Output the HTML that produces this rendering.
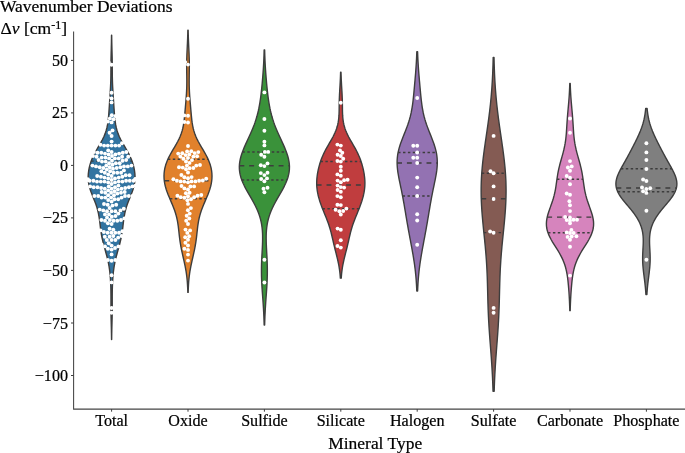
<!DOCTYPE html>
<html><head><meta charset="utf-8"><title>Wavenumber Deviations</title>
<style>
html,body{margin:0;padding:0;background:#fff;}
body{width:685px;height:453px;overflow:hidden;position:relative;}
svg{position:absolute;left:0;top:0;display:block;}
text{font-family:"Liberation Serif",serif;fill:#000;stroke:#000;stroke-width:0.22px;}
.t{font-size:16.1px;}
.l{font-size:17.45px;}
</style></head><body>
<svg width="685" height="453" viewBox="0 0 685 453">
<rect width="685" height="453" fill="#fff"/>
<text x="0" y="12.3" class="l">Wavenumber Deviations</text>
<text x="0.5" y="33.6" class="l" style="font-size:17.5px">Δ<tspan font-style="italic">ν</tspan> [cm<tspan dy="-4.1" font-size="12">-1</tspan><tspan dy="4.1">]</tspan></text>
<g>
<path d="M111.53,35.29 L111.49,38.36 L111.44,41.43 L111.38,44.51 L111.30,47.58 L111.22,50.65 L111.14,53.72 L111.06,56.80 L111.00,59.87 L110.96,62.94 L110.94,66.02 L110.93,69.09 L110.91,72.16 L110.89,75.24 L110.84,78.31 L110.76,81.38 L110.64,84.45 L110.49,87.53 L110.32,90.60 L110.13,93.67 L109.93,96.75 L109.73,99.82 L109.54,102.89 L109.34,105.97 L109.13,109.04 L108.92,112.11 L108.68,115.18 L108.40,118.26 L108.05,121.33 L107.59,124.40 L106.98,127.48 L106.17,130.55 L105.14,133.62 L103.86,136.70 L102.35,139.77 L100.67,142.84 L98.88,145.91 L97.07,148.99 L95.32,152.06 L93.71,155.13 L92.30,158.21 L91.09,161.28 L90.10,164.35 L89.31,167.43 L88.72,170.50 L88.33,173.57 L88.17,176.64 L88.24,179.72 L88.57,182.79 L89.17,185.86 L90.01,188.94 L91.06,192.01 L92.25,195.08 L93.50,198.16 L94.73,201.23 L95.88,204.30 L96.89,207.37 L97.75,210.45 L98.46,213.52 L99.02,216.59 L99.48,219.67 L99.86,222.74 L100.22,225.81 L100.59,228.89 L101.01,231.96 L101.51,235.03 L102.10,238.10 L102.79,241.18 L103.57,244.25 L104.40,247.32 L105.26,250.40 L106.12,253.47 L106.94,256.54 L107.69,259.62 L108.37,262.69 L108.94,265.76 L109.42,268.83 L109.82,271.91 L110.13,274.98 L110.37,278.05 L110.57,281.13 L110.71,284.20 L110.82,287.27 L110.90,290.35 L110.94,293.42 L110.96,296.49 L110.97,299.56 L110.96,302.64 L110.96,305.71 L110.96,308.78 L110.99,311.86 L111.03,314.93 L111.09,318.00 L111.17,321.08 L111.25,324.15 L111.33,327.22 L111.40,330.29 L111.46,333.37 L111.51,336.44 L111.54,339.51 L111.66,339.51 L111.69,336.44 L111.74,333.37 L111.80,330.29 L111.87,327.22 L111.95,324.15 L112.03,321.08 L112.11,318.00 L112.17,314.93 L112.21,311.86 L112.24,308.78 L112.24,305.71 L112.24,302.64 L112.23,299.56 L112.24,296.49 L112.26,293.42 L112.30,290.35 L112.38,287.27 L112.49,284.20 L112.63,281.13 L112.83,278.05 L113.07,274.98 L113.38,271.91 L113.78,268.83 L114.26,265.76 L114.83,262.69 L115.51,259.62 L116.26,256.54 L117.08,253.47 L117.94,250.40 L118.80,247.32 L119.63,244.25 L120.41,241.18 L121.10,238.10 L121.69,235.03 L122.19,231.96 L122.61,228.89 L122.98,225.81 L123.34,222.74 L123.72,219.67 L124.18,216.59 L124.74,213.52 L125.45,210.45 L126.31,207.37 L127.32,204.30 L128.47,201.23 L129.70,198.16 L130.95,195.08 L132.14,192.01 L133.19,188.94 L134.03,185.86 L134.63,182.79 L134.96,179.72 L135.03,176.64 L134.87,173.57 L134.48,170.50 L133.89,167.43 L133.10,164.35 L132.11,161.28 L130.90,158.21 L129.49,155.13 L127.88,152.06 L126.13,148.99 L124.32,145.91 L122.53,142.84 L120.85,139.77 L119.34,136.70 L118.06,133.62 L117.03,130.55 L116.22,127.48 L115.61,124.40 L115.15,121.33 L114.80,118.26 L114.52,115.18 L114.28,112.11 L114.07,109.04 L113.86,105.97 L113.66,102.89 L113.47,99.82 L113.27,96.75 L113.07,93.67 L112.88,90.60 L112.71,87.53 L112.56,84.45 L112.44,81.38 L112.36,78.31 L112.31,75.24 L112.29,72.16 L112.27,69.09 L112.26,66.02 L112.24,62.94 L112.20,59.87 L112.14,56.80 L112.06,53.72 L111.98,50.65 L111.90,47.58 L111.82,44.51 L111.76,41.43 L111.71,38.36 L111.67,35.29Z" fill="#3274a1" stroke="#3d3d3d" stroke-width="1.4" stroke-linejoin="round"/>
<path d="M187.85,30.30 L187.80,32.95 L187.72,35.59 L187.64,38.24 L187.53,40.89 L187.42,43.54 L187.29,46.18 L187.17,48.83 L187.04,51.48 L186.92,54.13 L186.83,56.77 L186.75,59.42 L186.70,62.07 L186.68,64.72 L186.68,67.36 L186.70,70.01 L186.73,72.66 L186.77,75.31 L186.80,77.95 L186.82,80.60 L186.81,83.25 L186.77,85.90 L186.69,88.54 L186.58,91.19 L186.44,93.84 L186.26,96.49 L186.06,99.13 L185.85,101.78 L185.62,104.43 L185.39,107.08 L185.16,109.72 L184.93,112.37 L184.69,115.02 L184.44,117.67 L184.15,120.31 L183.80,122.96 L183.36,125.61 L182.81,128.26 L182.12,130.90 L181.27,133.55 L180.25,136.20 L179.06,138.85 L177.72,141.49 L176.27,144.14 L174.73,146.79 L173.16,149.44 L171.61,152.08 L170.13,154.73 L168.76,157.38 L167.54,160.03 L166.48,162.67 L165.60,165.32 L164.91,167.97 L164.42,170.62 L164.12,173.26 L164.00,175.91 L164.08,178.56 L164.34,181.21 L164.77,183.85 L165.38,186.50 L166.14,189.15 L167.04,191.80 L168.04,194.44 L169.13,197.09 L170.26,199.74 L171.40,202.39 L172.52,205.03 L173.59,207.68 L174.57,210.33 L175.45,212.98 L176.21,215.62 L176.87,218.27 L177.42,220.92 L177.87,223.57 L178.25,226.21 L178.57,228.86 L178.86,231.51 L179.15,234.16 L179.45,236.80 L179.78,239.45 L180.16,242.10 L180.58,244.75 L181.06,247.39 L181.58,250.04 L182.15,252.69 L182.74,255.34 L183.34,257.98 L183.94,260.63 L184.52,263.28 L185.07,265.93 L185.58,268.57 L186.04,271.22 L186.44,273.87 L186.78,276.52 L187.07,279.16 L187.31,281.81 L187.49,284.46 L187.64,287.11 L187.75,289.75 L187.83,292.40 L188.17,292.40 L188.25,289.75 L188.36,287.11 L188.51,284.46 L188.69,281.81 L188.93,279.16 L189.22,276.52 L189.56,273.87 L189.96,271.22 L190.42,268.57 L190.93,265.93 L191.48,263.28 L192.06,260.63 L192.66,257.98 L193.26,255.34 L193.85,252.69 L194.42,250.04 L194.94,247.39 L195.42,244.75 L195.84,242.10 L196.22,239.45 L196.55,236.80 L196.85,234.16 L197.14,231.51 L197.43,228.86 L197.75,226.21 L198.13,223.57 L198.58,220.92 L199.13,218.27 L199.79,215.62 L200.55,212.98 L201.43,210.33 L202.41,207.68 L203.48,205.03 L204.60,202.39 L205.74,199.74 L206.87,197.09 L207.96,194.44 L208.96,191.80 L209.86,189.15 L210.62,186.50 L211.23,183.85 L211.66,181.21 L211.92,178.56 L212.00,175.91 L211.88,173.26 L211.58,170.62 L211.09,167.97 L210.40,165.32 L209.52,162.67 L208.46,160.03 L207.24,157.38 L205.87,154.73 L204.39,152.08 L202.84,149.44 L201.27,146.79 L199.73,144.14 L198.28,141.49 L196.94,138.85 L195.75,136.20 L194.73,133.55 L193.88,130.90 L193.19,128.26 L192.64,125.61 L192.20,122.96 L191.85,120.31 L191.56,117.67 L191.31,115.02 L191.07,112.37 L190.84,109.72 L190.61,107.08 L190.38,104.43 L190.15,101.78 L189.94,99.13 L189.74,96.49 L189.56,93.84 L189.42,91.19 L189.31,88.54 L189.23,85.90 L189.19,83.25 L189.18,80.60 L189.20,77.95 L189.23,75.31 L189.27,72.66 L189.30,70.01 L189.32,67.36 L189.32,64.72 L189.30,62.07 L189.25,59.42 L189.17,56.77 L189.08,54.13 L188.96,51.48 L188.83,48.83 L188.71,46.18 L188.58,43.54 L188.47,40.89 L188.36,38.24 L188.28,35.59 L188.20,32.95 L188.15,30.30Z" fill="#e1812c" stroke="#3d3d3d" stroke-width="1.4" stroke-linejoin="round"/>
<path d="M264.16,49.86 L264.09,52.64 L264.00,55.42 L263.90,58.19 L263.78,60.97 L263.64,63.75 L263.48,66.53 L263.31,69.31 L263.12,72.09 L262.91,74.87 L262.69,77.65 L262.45,80.43 L262.21,83.21 L261.94,85.99 L261.66,88.77 L261.36,91.55 L261.04,94.33 L260.70,97.11 L260.31,99.89 L259.89,102.67 L259.41,105.45 L258.88,108.23 L258.28,111.01 L257.61,113.79 L256.86,116.57 L256.02,119.35 L255.11,122.13 L254.11,124.91 L253.03,127.69 L251.88,130.47 L250.67,133.25 L249.41,136.03 L248.13,138.81 L246.85,141.59 L245.58,144.36 L244.35,147.14 L243.20,149.92 L242.16,152.70 L241.23,155.48 L240.47,158.26 L239.88,161.04 L239.50,163.82 L239.33,166.60 L239.40,169.38 L239.70,172.16 L240.23,174.94 L240.98,177.72 L241.95,180.50 L243.11,183.28 L244.42,186.06 L245.86,188.84 L247.40,191.62 L248.99,194.40 L250.60,197.18 L252.18,199.96 L253.72,202.74 L255.17,205.52 L256.51,208.30 L257.73,211.08 L258.81,213.86 L259.75,216.64 L260.54,219.42 L261.19,222.20 L261.70,224.98 L262.08,227.76 L262.36,230.54 L262.53,233.31 L262.61,236.09 L262.62,238.87 L262.57,241.65 L262.48,244.43 L262.36,247.21 L262.22,249.99 L262.07,252.77 L261.92,255.55 L261.78,258.33 L261.66,261.11 L261.56,263.89 L261.49,266.67 L261.46,269.45 L261.46,272.23 L261.49,275.01 L261.56,277.79 L261.66,280.57 L261.79,283.35 L261.94,286.13 L262.12,288.91 L262.30,291.69 L262.50,294.47 L262.71,297.25 L262.91,300.03 L263.11,302.81 L263.29,305.59 L263.47,308.37 L263.62,311.15 L263.76,313.93 L263.89,316.71 L263.99,319.48 L264.08,322.26 L264.16,325.04 L264.64,325.04 L264.72,322.26 L264.81,319.48 L264.91,316.71 L265.04,313.93 L265.18,311.15 L265.33,308.37 L265.51,305.59 L265.69,302.81 L265.89,300.03 L266.09,297.25 L266.30,294.47 L266.50,291.69 L266.68,288.91 L266.86,286.13 L267.01,283.35 L267.14,280.57 L267.24,277.79 L267.31,275.01 L267.34,272.23 L267.34,269.45 L267.31,266.67 L267.24,263.89 L267.14,261.11 L267.02,258.33 L266.88,255.55 L266.73,252.77 L266.58,249.99 L266.44,247.21 L266.32,244.43 L266.23,241.65 L266.18,238.87 L266.19,236.09 L266.27,233.31 L266.44,230.54 L266.72,227.76 L267.10,224.98 L267.61,222.20 L268.26,219.42 L269.05,216.64 L269.99,213.86 L271.07,211.08 L272.29,208.30 L273.63,205.52 L275.08,202.74 L276.62,199.96 L278.20,197.18 L279.81,194.40 L281.40,191.62 L282.94,188.84 L284.38,186.06 L285.69,183.28 L286.85,180.50 L287.82,177.72 L288.57,174.94 L289.10,172.16 L289.40,169.38 L289.47,166.60 L289.30,163.82 L288.92,161.04 L288.33,158.26 L287.57,155.48 L286.64,152.70 L285.60,149.92 L284.45,147.14 L283.22,144.36 L281.95,141.59 L280.67,138.81 L279.39,136.03 L278.13,133.25 L276.92,130.47 L275.77,127.69 L274.69,124.91 L273.69,122.13 L272.78,119.35 L271.94,116.57 L271.19,113.79 L270.52,111.01 L269.92,108.23 L269.39,105.45 L268.91,102.67 L268.49,99.89 L268.10,97.11 L267.76,94.33 L267.44,91.55 L267.14,88.77 L266.86,85.99 L266.59,83.21 L266.35,80.43 L266.11,77.65 L265.89,74.87 L265.68,72.09 L265.49,69.31 L265.32,66.53 L265.16,63.75 L265.02,60.97 L264.90,58.19 L264.80,55.42 L264.71,52.64 L264.64,49.86Z" fill="#3a923a" stroke="#3d3d3d" stroke-width="1.4" stroke-linejoin="round"/>
<path d="M340.60,72.23 L340.54,74.31 L340.47,76.39 L340.39,78.48 L340.29,80.56 L340.18,82.64 L340.07,84.72 L339.95,86.80 L339.83,88.88 L339.70,90.96 L339.59,93.04 L339.49,95.12 L339.40,97.20 L339.32,99.28 L339.27,101.36 L339.23,103.44 L339.20,105.52 L339.17,107.60 L339.15,109.68 L339.11,111.76 L339.04,113.84 L338.93,115.92 L338.77,118.00 L338.53,120.08 L338.21,122.16 L337.80,124.24 L337.27,126.32 L336.64,128.40 L335.89,130.48 L335.03,132.56 L334.07,134.64 L333.02,136.72 L331.90,138.80 L330.72,140.88 L329.52,142.96 L328.31,145.04 L327.12,147.12 L325.97,149.20 L324.87,151.28 L323.84,153.36 L322.88,155.44 L321.99,157.52 L321.19,159.60 L320.46,161.68 L319.80,163.76 L319.21,165.84 L318.68,167.92 L318.20,170.00 L317.78,172.08 L317.42,174.16 L317.13,176.24 L316.91,178.32 L316.76,180.40 L316.69,182.48 L316.71,184.56 L316.81,186.64 L317.01,188.72 L317.29,190.80 L317.65,192.88 L318.08,194.96 L318.59,197.04 L319.17,199.12 L319.80,201.20 L320.50,203.28 L321.23,205.36 L322.01,207.44 L322.83,209.52 L323.67,211.60 L324.52,213.68 L325.37,215.76 L326.21,217.84 L327.03,219.92 L327.81,222.00 L328.56,224.08 L329.25,226.16 L329.90,228.24 L330.49,230.32 L331.05,232.40 L331.57,234.48 L332.06,236.56 L332.54,238.64 L333.01,240.72 L333.49,242.80 L333.97,244.88 L334.47,246.96 L334.98,249.04 L335.51,251.12 L336.03,253.20 L336.56,255.28 L337.07,257.36 L337.57,259.44 L338.04,261.52 L338.48,263.60 L338.88,265.68 L339.23,267.76 L339.54,269.84 L339.80,271.92 L340.02,274.01 L340.21,276.09 L340.35,278.17 L341.25,278.17 L341.39,276.09 L341.58,274.01 L341.80,271.92 L342.06,269.84 L342.37,267.76 L342.72,265.68 L343.12,263.60 L343.56,261.52 L344.03,259.44 L344.53,257.36 L345.04,255.28 L345.57,253.20 L346.09,251.12 L346.62,249.04 L347.13,246.96 L347.63,244.88 L348.11,242.80 L348.59,240.72 L349.06,238.64 L349.54,236.56 L350.03,234.48 L350.55,232.40 L351.11,230.32 L351.70,228.24 L352.35,226.16 L353.04,224.08 L353.79,222.00 L354.57,219.92 L355.39,217.84 L356.23,215.76 L357.08,213.68 L357.93,211.60 L358.77,209.52 L359.59,207.44 L360.37,205.36 L361.10,203.28 L361.80,201.20 L362.43,199.12 L363.01,197.04 L363.52,194.96 L363.95,192.88 L364.31,190.80 L364.59,188.72 L364.79,186.64 L364.89,184.56 L364.91,182.48 L364.84,180.40 L364.69,178.32 L364.47,176.24 L364.18,174.16 L363.82,172.08 L363.40,170.00 L362.92,167.92 L362.39,165.84 L361.80,163.76 L361.14,161.68 L360.41,159.60 L359.61,157.52 L358.72,155.44 L357.76,153.36 L356.73,151.28 L355.63,149.20 L354.48,147.12 L353.29,145.04 L352.08,142.96 L350.88,140.88 L349.70,138.80 L348.58,136.72 L347.53,134.64 L346.57,132.56 L345.71,130.48 L344.96,128.40 L344.33,126.32 L343.80,124.24 L343.39,122.16 L343.07,120.08 L342.83,118.00 L342.67,115.92 L342.56,113.84 L342.49,111.76 L342.45,109.68 L342.43,107.60 L342.40,105.52 L342.37,103.44 L342.33,101.36 L342.28,99.28 L342.20,97.20 L342.11,95.12 L342.01,93.04 L341.90,90.96 L341.77,88.88 L341.65,86.80 L341.53,84.72 L341.42,82.64 L341.31,80.56 L341.21,78.48 L341.13,76.39 L341.06,74.31 L341.00,72.23Z" fill="#c03d3e" stroke="#3d3d3d" stroke-width="1.4" stroke-linejoin="round"/>
<path d="M416.82,51.70 L416.74,54.12 L416.64,56.54 L416.53,58.95 L416.40,61.37 L416.26,63.79 L416.10,66.21 L415.94,68.62 L415.76,71.04 L415.57,73.46 L415.37,75.87 L415.16,78.29 L414.96,80.71 L414.74,83.13 L414.53,85.54 L414.31,87.96 L414.09,90.38 L413.87,92.79 L413.63,95.21 L413.39,97.63 L413.13,100.04 L412.84,102.46 L412.52,104.88 L412.15,107.30 L411.74,109.71 L411.28,112.13 L410.75,114.55 L410.15,116.96 L409.49,119.38 L408.76,121.80 L407.96,124.22 L407.10,126.63 L406.20,129.05 L405.25,131.47 L404.29,133.88 L403.32,136.30 L402.37,138.72 L401.44,141.14 L400.57,143.55 L399.78,145.97 L399.06,148.39 L398.45,150.80 L397.94,153.22 L397.56,155.64 L397.29,158.06 L397.14,160.47 L397.10,162.89 L397.18,165.31 L397.35,167.72 L397.60,170.14 L397.94,172.56 L398.33,174.98 L398.77,177.39 L399.24,179.81 L399.73,182.23 L400.24,184.64 L400.74,187.06 L401.25,189.48 L401.74,191.90 L402.22,194.31 L402.69,196.73 L403.14,199.15 L403.58,201.56 L404.01,203.98 L404.42,206.40 L404.83,208.82 L405.23,211.23 L405.64,213.65 L406.04,216.07 L406.44,218.48 L406.85,220.90 L407.27,223.32 L407.69,225.74 L408.12,228.15 L408.56,230.57 L409.00,232.99 L409.45,235.40 L409.90,237.82 L410.36,240.24 L410.81,242.66 L411.26,245.07 L411.71,247.49 L412.15,249.91 L412.58,252.32 L413.00,254.74 L413.40,257.16 L413.79,259.57 L414.16,261.99 L414.51,264.41 L414.83,266.83 L415.14,269.24 L415.41,271.66 L415.67,274.08 L415.89,276.49 L416.10,278.91 L416.28,281.33 L416.43,283.75 L416.57,286.16 L416.69,288.58 L416.79,291.00 L417.61,291.00 L417.71,288.58 L417.83,286.16 L417.97,283.75 L418.12,281.33 L418.30,278.91 L418.51,276.49 L418.73,274.08 L418.99,271.66 L419.26,269.24 L419.57,266.83 L419.89,264.41 L420.24,261.99 L420.61,259.57 L421.00,257.16 L421.40,254.74 L421.82,252.32 L422.25,249.91 L422.69,247.49 L423.14,245.07 L423.59,242.66 L424.04,240.24 L424.50,237.82 L424.95,235.40 L425.40,232.99 L425.84,230.57 L426.28,228.15 L426.71,225.74 L427.13,223.32 L427.55,220.90 L427.96,218.48 L428.36,216.07 L428.76,213.65 L429.17,211.23 L429.57,208.82 L429.98,206.40 L430.39,203.98 L430.82,201.56 L431.26,199.15 L431.71,196.73 L432.18,194.31 L432.66,191.90 L433.15,189.48 L433.66,187.06 L434.16,184.64 L434.67,182.23 L435.16,179.81 L435.63,177.39 L436.07,174.98 L436.46,172.56 L436.80,170.14 L437.05,167.72 L437.22,165.31 L437.30,162.89 L437.26,160.47 L437.11,158.06 L436.84,155.64 L436.46,153.22 L435.95,150.80 L435.34,148.39 L434.62,145.97 L433.83,143.55 L432.96,141.14 L432.03,138.72 L431.08,136.30 L430.11,133.88 L429.15,131.47 L428.20,129.05 L427.30,126.63 L426.44,124.22 L425.64,121.80 L424.91,119.38 L424.25,116.96 L423.65,114.55 L423.12,112.13 L422.66,109.71 L422.25,107.30 L421.88,104.88 L421.56,102.46 L421.27,100.04 L421.01,97.63 L420.77,95.21 L420.53,92.79 L420.31,90.38 L420.09,87.96 L419.87,85.54 L419.66,83.13 L419.44,80.71 L419.24,78.29 L419.03,75.87 L418.83,73.46 L418.64,71.04 L418.46,68.62 L418.30,66.21 L418.14,63.79 L418.00,61.37 L417.87,58.95 L417.76,56.54 L417.66,54.12 L417.58,51.70Z" fill="#9372b2" stroke="#3d3d3d" stroke-width="1.4" stroke-linejoin="round"/>
<path d="M493.20,57.33 L493.12,60.70 L493.03,64.07 L492.92,67.45 L492.79,70.82 L492.65,74.19 L492.49,77.57 L492.31,80.94 L492.10,84.31 L491.88,87.69 L491.63,91.06 L491.36,94.43 L491.06,97.81 L490.74,101.18 L490.40,104.55 L490.03,107.93 L489.64,111.30 L489.23,114.67 L488.80,118.05 L488.34,121.42 L487.88,124.79 L487.40,128.16 L486.91,131.54 L486.42,134.91 L485.92,138.28 L485.43,141.66 L484.95,145.03 L484.47,148.40 L484.01,151.78 L483.58,155.15 L483.16,158.52 L482.78,161.90 L482.43,165.27 L482.12,168.64 L481.84,172.02 L481.61,175.39 L481.42,178.76 L481.28,182.14 L481.19,185.51 L481.14,188.88 L481.14,192.25 L481.18,195.63 L481.27,199.00 L481.40,202.37 L481.57,205.75 L481.77,209.12 L482.01,212.49 L482.28,215.87 L482.57,219.24 L482.88,222.61 L483.20,225.99 L483.54,229.36 L483.88,232.73 L484.23,236.11 L484.57,239.48 L484.90,242.85 L485.23,246.23 L485.53,249.60 L485.82,252.97 L486.09,256.35 L486.34,259.72 L486.56,263.09 L486.76,266.46 L486.94,269.84 L487.09,273.21 L487.23,276.58 L487.34,279.96 L487.44,283.33 L487.53,286.70 L487.62,290.08 L487.70,293.45 L487.78,296.82 L487.87,300.20 L487.96,303.57 L488.07,306.94 L488.19,310.32 L488.33,313.69 L488.48,317.06 L488.66,320.44 L488.85,323.81 L489.05,327.18 L489.27,330.55 L489.51,333.93 L489.75,337.30 L490.01,340.67 L490.27,344.05 L490.53,347.42 L490.79,350.79 L491.04,354.17 L491.29,357.54 L491.53,360.91 L491.75,364.29 L491.97,367.66 L492.16,371.03 L492.35,374.41 L492.52,377.78 L492.67,381.15 L492.80,384.53 L492.93,387.90 L493.03,391.27 L494.17,391.27 L494.27,387.90 L494.40,384.53 L494.53,381.15 L494.68,377.78 L494.85,374.41 L495.04,371.03 L495.23,367.66 L495.45,364.29 L495.67,360.91 L495.91,357.54 L496.16,354.17 L496.41,350.79 L496.67,347.42 L496.93,344.05 L497.19,340.67 L497.45,337.30 L497.69,333.93 L497.93,330.55 L498.15,327.18 L498.35,323.81 L498.54,320.44 L498.72,317.06 L498.87,313.69 L499.01,310.32 L499.13,306.94 L499.24,303.57 L499.33,300.20 L499.42,296.82 L499.50,293.45 L499.58,290.08 L499.67,286.70 L499.76,283.33 L499.86,279.96 L499.97,276.58 L500.11,273.21 L500.26,269.84 L500.44,266.46 L500.64,263.09 L500.86,259.72 L501.11,256.35 L501.38,252.97 L501.67,249.60 L501.97,246.23 L502.30,242.85 L502.63,239.48 L502.97,236.11 L503.32,232.73 L503.66,229.36 L504.00,225.99 L504.32,222.61 L504.63,219.24 L504.92,215.87 L505.19,212.49 L505.43,209.12 L505.63,205.75 L505.80,202.37 L505.93,199.00 L506.02,195.63 L506.06,192.25 L506.06,188.88 L506.01,185.51 L505.92,182.14 L505.78,178.76 L505.59,175.39 L505.36,172.02 L505.08,168.64 L504.77,165.27 L504.42,161.90 L504.04,158.52 L503.62,155.15 L503.19,151.78 L502.73,148.40 L502.25,145.03 L501.77,141.66 L501.28,138.28 L500.78,134.91 L500.29,131.54 L499.80,128.16 L499.32,124.79 L498.86,121.42 L498.40,118.05 L497.97,114.67 L497.56,111.30 L497.17,107.93 L496.80,104.55 L496.46,101.18 L496.14,97.81 L495.84,94.43 L495.57,91.06 L495.32,87.69 L495.10,84.31 L494.89,80.94 L494.71,77.57 L494.55,74.19 L494.41,70.82 L494.28,67.45 L494.17,64.07 L494.08,60.70 L494.00,57.33Z" fill="#845b53" stroke="#3d3d3d" stroke-width="1.4" stroke-linejoin="round"/>
<path d="M569.77,83.48 L569.71,85.77 L569.62,88.07 L569.52,90.36 L569.40,92.66 L569.26,94.95 L569.11,97.24 L568.94,99.54 L568.76,101.83 L568.56,104.13 L568.36,106.42 L568.15,108.72 L567.94,111.01 L567.74,113.31 L567.55,115.60 L567.37,117.89 L567.20,120.19 L567.04,122.48 L566.89,124.78 L566.75,127.07 L566.61,129.37 L566.45,131.66 L566.28,133.95 L566.07,136.25 L565.83,138.54 L565.53,140.84 L565.18,143.13 L564.77,145.43 L564.30,147.72 L563.78,150.02 L563.20,152.31 L562.59,154.60 L561.95,156.90 L561.30,159.19 L560.65,161.49 L560.03,163.78 L559.44,166.08 L558.89,168.37 L558.39,170.66 L557.95,172.96 L557.55,175.25 L557.19,177.55 L556.86,179.84 L556.54,182.14 L556.22,184.43 L555.88,186.73 L555.50,189.02 L555.07,191.31 L554.57,193.61 L554.01,195.90 L553.37,198.20 L552.67,200.49 L551.91,202.79 L551.10,205.08 L550.28,207.37 L549.46,209.67 L548.67,211.96 L547.96,214.26 L547.34,216.55 L546.86,218.85 L546.53,221.14 L546.39,223.44 L546.45,225.73 L546.72,228.02 L547.21,230.32 L547.91,232.61 L548.81,234.91 L549.87,237.20 L551.09,239.50 L552.42,241.79 L553.83,244.08 L555.28,246.38 L556.73,248.67 L558.15,250.97 L559.51,253.26 L560.78,255.56 L561.95,257.85 L563.01,260.15 L563.94,262.44 L564.76,264.73 L565.46,267.03 L566.06,269.32 L566.57,271.62 L567.00,273.91 L567.37,276.21 L567.68,278.50 L567.96,280.79 L568.20,283.09 L568.41,285.38 L568.61,287.68 L568.79,289.97 L568.96,292.27 L569.11,294.56 L569.25,296.86 L569.38,299.15 L569.49,301.44 L569.58,303.74 L569.67,306.03 L569.74,308.33 L569.80,310.62 L570.20,310.62 L570.26,308.33 L570.33,306.03 L570.42,303.74 L570.51,301.44 L570.62,299.15 L570.75,296.86 L570.89,294.56 L571.04,292.27 L571.21,289.97 L571.39,287.68 L571.59,285.38 L571.80,283.09 L572.04,280.79 L572.32,278.50 L572.63,276.21 L573.00,273.91 L573.43,271.62 L573.94,269.32 L574.54,267.03 L575.24,264.73 L576.06,262.44 L576.99,260.15 L578.05,257.85 L579.22,255.56 L580.49,253.26 L581.85,250.97 L583.27,248.67 L584.72,246.38 L586.17,244.08 L587.58,241.79 L588.91,239.50 L590.13,237.20 L591.19,234.91 L592.09,232.61 L592.79,230.32 L593.28,228.02 L593.55,225.73 L593.61,223.44 L593.47,221.14 L593.14,218.85 L592.66,216.55 L592.04,214.26 L591.33,211.96 L590.54,209.67 L589.72,207.37 L588.90,205.08 L588.09,202.79 L587.33,200.49 L586.63,198.20 L585.99,195.90 L585.43,193.61 L584.93,191.31 L584.50,189.02 L584.12,186.73 L583.78,184.43 L583.46,182.14 L583.14,179.84 L582.81,177.55 L582.45,175.25 L582.05,172.96 L581.61,170.66 L581.11,168.37 L580.56,166.08 L579.97,163.78 L579.35,161.49 L578.70,159.19 L578.05,156.90 L577.41,154.60 L576.80,152.31 L576.22,150.02 L575.70,147.72 L575.23,145.43 L574.82,143.13 L574.47,140.84 L574.17,138.54 L573.93,136.25 L573.72,133.95 L573.55,131.66 L573.39,129.37 L573.25,127.07 L573.11,124.78 L572.96,122.48 L572.80,120.19 L572.63,117.89 L572.45,115.60 L572.26,113.31 L572.06,111.01 L571.85,108.72 L571.64,106.42 L571.44,104.13 L571.24,101.83 L571.06,99.54 L570.89,97.24 L570.74,94.95 L570.60,92.66 L570.48,90.36 L570.38,88.07 L570.29,85.77 L570.23,83.48Z" fill="#d684bd" stroke="#3d3d3d" stroke-width="1.4" stroke-linejoin="round"/>
<path d="M645.70,108.44 L645.51,110.32 L645.29,112.20 L645.03,114.08 L644.72,115.96 L644.37,117.84 L643.96,119.72 L643.49,121.59 L642.98,123.47 L642.40,125.35 L641.77,127.23 L641.09,129.11 L640.36,130.99 L639.58,132.87 L638.76,134.75 L637.91,136.63 L637.02,138.51 L636.11,140.38 L635.18,142.26 L634.23,144.14 L633.27,146.02 L632.30,147.90 L631.32,149.78 L630.33,151.66 L629.32,153.54 L628.31,155.42 L627.28,157.29 L626.24,159.17 L625.19,161.05 L624.13,162.93 L623.06,164.81 L622.01,166.69 L620.98,168.57 L619.99,170.45 L619.06,172.33 L618.20,174.21 L617.45,176.08 L616.82,177.96 L616.34,179.84 L616.03,181.72 L615.90,183.60 L615.97,185.48 L616.25,187.36 L616.74,189.24 L617.43,191.12 L618.31,192.99 L619.37,194.87 L620.59,196.75 L621.94,198.63 L623.39,200.51 L624.92,202.39 L626.50,204.27 L628.09,206.15 L629.68,208.03 L631.23,209.91 L632.72,211.78 L634.15,213.66 L635.48,215.54 L636.72,217.42 L637.85,219.30 L638.87,221.18 L639.77,223.06 L640.56,224.94 L641.23,226.82 L641.80,228.69 L642.26,230.57 L642.63,232.45 L642.90,234.33 L643.09,236.21 L643.21,238.09 L643.26,239.97 L643.26,241.85 L643.22,243.73 L643.15,245.61 L643.05,247.48 L642.95,249.36 L642.85,251.24 L642.76,253.12 L642.69,255.00 L642.65,256.88 L642.64,258.76 L642.66,260.64 L642.72,262.52 L642.82,264.39 L642.95,266.27 L643.12,268.15 L643.31,270.03 L643.52,271.91 L643.75,273.79 L643.99,275.67 L644.23,277.55 L644.47,279.43 L644.70,281.31 L644.92,283.18 L645.13,285.06 L645.32,286.94 L645.50,288.82 L645.65,290.70 L645.79,292.58 L645.90,294.46 L646.90,294.46 L647.01,292.58 L647.15,290.70 L647.30,288.82 L647.48,286.94 L647.67,285.06 L647.88,283.18 L648.10,281.31 L648.33,279.43 L648.57,277.55 L648.81,275.67 L649.05,273.79 L649.28,271.91 L649.49,270.03 L649.68,268.15 L649.85,266.27 L649.98,264.39 L650.08,262.52 L650.14,260.64 L650.16,258.76 L650.15,256.88 L650.11,255.00 L650.04,253.12 L649.95,251.24 L649.85,249.36 L649.75,247.48 L649.65,245.61 L649.58,243.73 L649.54,241.85 L649.54,239.97 L649.59,238.09 L649.71,236.21 L649.90,234.33 L650.17,232.45 L650.54,230.57 L651.00,228.69 L651.57,226.82 L652.24,224.94 L653.03,223.06 L653.93,221.18 L654.95,219.30 L656.08,217.42 L657.32,215.54 L658.65,213.66 L660.08,211.78 L661.57,209.91 L663.12,208.03 L664.71,206.15 L666.30,204.27 L667.88,202.39 L669.41,200.51 L670.86,198.63 L672.21,196.75 L673.43,194.87 L674.49,192.99 L675.37,191.12 L676.06,189.24 L676.55,187.36 L676.83,185.48 L676.90,183.60 L676.77,181.72 L676.46,179.84 L675.98,177.96 L675.35,176.08 L674.60,174.21 L673.74,172.33 L672.81,170.45 L671.82,168.57 L670.79,166.69 L669.74,164.81 L668.67,162.93 L667.61,161.05 L666.56,159.17 L665.52,157.29 L664.49,155.42 L663.48,153.54 L662.47,151.66 L661.48,149.78 L660.50,147.90 L659.53,146.02 L658.57,144.14 L657.62,142.26 L656.69,140.38 L655.78,138.51 L654.89,136.63 L654.04,134.75 L653.22,132.87 L652.44,130.99 L651.71,129.11 L651.03,127.23 L650.40,125.35 L649.82,123.47 L649.31,121.59 L648.84,119.72 L648.43,117.84 L648.08,115.96 L647.77,114.08 L647.51,112.20 L647.29,110.32 L647.10,108.44Z" fill="#7f7f7f" stroke="#3d3d3d" stroke-width="1.4" stroke-linejoin="round"/>
</g>
<g>
<line x1="91.2" y1="161.1" x2="132.0" y2="161.1" stroke="#3d3d3d" stroke-width="1.4" stroke-dasharray="2.45 2.45"/>
<line x1="88.4" y1="181.4" x2="134.8" y2="181.4" stroke="#3d3d3d" stroke-width="1.4" stroke-dasharray="4.9 4.9"/>
<line x1="97.9" y1="211.0" x2="125.3" y2="211.0" stroke="#3d3d3d" stroke-width="1.4" stroke-dasharray="2.45 2.45"/>
<line x1="167.9" y1="159.3" x2="208.1" y2="159.3" stroke="#3d3d3d" stroke-width="1.4" stroke-dasharray="2.45 2.45"/>
<line x1="164.3" y1="180.7" x2="211.7" y2="180.7" stroke="#3d3d3d" stroke-width="1.4" stroke-dasharray="4.9 4.9"/>
<line x1="169.9" y1="198.8" x2="206.1" y2="198.8" stroke="#3d3d3d" stroke-width="1.4" stroke-dasharray="2.45 2.45"/>
<line x1="242.4" y1="152.0" x2="286.4" y2="152.0" stroke="#3d3d3d" stroke-width="1.4" stroke-dasharray="2.45 2.45"/>
<line x1="239.4" y1="165.7" x2="289.4" y2="165.7" stroke="#3d3d3d" stroke-width="1.4" stroke-dasharray="4.9 4.9"/>
<line x1="241.8" y1="180.0" x2="287.0" y2="180.0" stroke="#3d3d3d" stroke-width="1.4" stroke-dasharray="2.45 2.45"/>
<line x1="320.5" y1="161.5" x2="361.1" y2="161.5" stroke="#3d3d3d" stroke-width="1.4" stroke-dasharray="2.45 2.45"/>
<line x1="316.7" y1="185.0" x2="364.9" y2="185.0" stroke="#3d3d3d" stroke-width="1.4" stroke-dasharray="4.9 4.9"/>
<line x1="322.5" y1="208.7" x2="359.1" y2="208.7" stroke="#3d3d3d" stroke-width="1.4" stroke-dasharray="2.45 2.45"/>
<line x1="398.1" y1="152.5" x2="436.3" y2="152.5" stroke="#3d3d3d" stroke-width="1.4" stroke-dasharray="2.45 2.45"/>
<line x1="397.1" y1="163.0" x2="437.3" y2="163.0" stroke="#3d3d3d" stroke-width="1.4" stroke-dasharray="4.9 4.9"/>
<line x1="402.6" y1="196.0" x2="431.8" y2="196.0" stroke="#3d3d3d" stroke-width="1.4" stroke-dasharray="2.45 2.45"/>
<line x1="481.8" y1="173.2" x2="505.4" y2="173.2" stroke="#3d3d3d" stroke-width="1.4" stroke-dasharray="2.45 2.45"/>
<line x1="481.3" y1="198.8" x2="505.9" y2="198.8" stroke="#3d3d3d" stroke-width="1.4" stroke-dasharray="4.9 4.9"/>
<line x1="483.9" y1="232.6" x2="503.3" y2="232.6" stroke="#3d3d3d" stroke-width="1.4" stroke-dasharray="2.45 2.45"/>
<line x1="557.0" y1="179.2" x2="583.0" y2="179.2" stroke="#3d3d3d" stroke-width="1.4" stroke-dasharray="2.45 2.45"/>
<line x1="547.2" y1="217.1" x2="592.8" y2="217.1" stroke="#3d3d3d" stroke-width="1.4" stroke-dasharray="4.9 4.9"/>
<line x1="548.0" y1="232.8" x2="592.0" y2="232.8" stroke="#3d3d3d" stroke-width="1.4" stroke-dasharray="2.45 2.45"/>
<line x1="620.9" y1="168.8" x2="671.9" y2="168.8" stroke="#3d3d3d" stroke-width="1.4" stroke-dasharray="2.45 2.45"/>
<line x1="616.4" y1="188.0" x2="676.4" y2="188.0" stroke="#3d3d3d" stroke-width="1.4" stroke-dasharray="4.9 4.9"/>
<line x1="617.7" y1="191.7" x2="675.1" y2="191.7" stroke="#3d3d3d" stroke-width="1.4" stroke-dasharray="2.45 2.45"/>
</g>
<g fill="#fff">
<circle cx="111.6" cy="312.8" r="1.95"/>
<circle cx="111.6" cy="308.0" r="1.95"/>
<circle cx="111.6" cy="282.4" r="1.95"/>
<circle cx="111.6" cy="275.2" r="1.95"/>
<circle cx="111.6" cy="260.8" r="1.95"/>
<circle cx="107.9" cy="260.0" r="1.95"/>
<circle cx="115.3" cy="260.0" r="1.95"/>
<circle cx="111.6" cy="254.4" r="1.95"/>
<circle cx="111.6" cy="249.6" r="1.95"/>
<circle cx="107.9" cy="248.8" r="1.95"/>
<circle cx="115.0" cy="248.0" r="1.95"/>
<circle cx="105.0" cy="246.4" r="1.95"/>
<circle cx="118.4" cy="246.4" r="1.95"/>
<circle cx="111.6" cy="245.6" r="1.95"/>
<circle cx="101.7" cy="244.8" r="1.95"/>
<circle cx="108.7" cy="243.2" r="1.95"/>
<circle cx="111.6" cy="240.0" r="1.95"/>
<circle cx="115.4" cy="240.0" r="1.95"/>
<circle cx="106.8" cy="240.0" r="1.95"/>
<circle cx="118.2" cy="237.6" r="1.95"/>
<circle cx="109.6" cy="236.8" r="1.95"/>
<circle cx="104.8" cy="236.8" r="1.95"/>
<circle cx="113.3" cy="236.0" r="1.95"/>
<circle cx="121.6" cy="236.0" r="1.95"/>
<circle cx="111.4" cy="232.8" r="1.95"/>
<circle cx="115.3" cy="232.8" r="1.95"/>
<circle cx="107.6" cy="232.8" r="1.95"/>
<circle cx="119.0" cy="232.8" r="1.95"/>
<circle cx="103.9" cy="232.0" r="1.95"/>
<circle cx="122.4" cy="231.2" r="1.95"/>
<circle cx="100.5" cy="230.4" r="1.95"/>
<circle cx="113.3" cy="229.6" r="1.95"/>
<circle cx="125.8" cy="229.6" r="1.95"/>
<circle cx="96.9" cy="229.6" r="1.95"/>
<circle cx="109.6" cy="228.8" r="1.95"/>
<circle cx="111.6" cy="224.0" r="1.95"/>
<circle cx="107.9" cy="223.2" r="1.95"/>
<circle cx="113.6" cy="220.8" r="1.95"/>
<circle cx="117.3" cy="220.8" r="1.95"/>
<circle cx="105.0" cy="220.8" r="1.95"/>
<circle cx="109.9" cy="220.0" r="1.95"/>
<circle cx="121.0" cy="220.0" r="1.95"/>
<circle cx="101.4" cy="220.0" r="1.95"/>
<circle cx="124.4" cy="218.4" r="1.95"/>
<circle cx="107.0" cy="217.6" r="1.95"/>
<circle cx="111.8" cy="216.8" r="1.95"/>
<circle cx="115.5" cy="216.0" r="1.95"/>
<circle cx="109.0" cy="214.4" r="1.95"/>
<circle cx="105.0" cy="214.4" r="1.95"/>
<circle cx="118.4" cy="213.6" r="1.95"/>
<circle cx="111.6" cy="211.2" r="1.95"/>
<circle cx="115.4" cy="211.2" r="1.95"/>
<circle cx="107.0" cy="211.2" r="1.95"/>
<circle cx="103.3" cy="210.4" r="1.95"/>
<circle cx="120.4" cy="210.4" r="1.95"/>
<circle cx="99.7" cy="209.6" r="1.95"/>
<circle cx="123.8" cy="208.8" r="1.95"/>
<circle cx="109.6" cy="208.0" r="1.95"/>
<circle cx="112.5" cy="205.6" r="1.95"/>
<circle cx="107.7" cy="204.8" r="1.95"/>
<circle cx="116.2" cy="204.8" r="1.95"/>
<circle cx="104.0" cy="204.0" r="1.95"/>
<circle cx="111.6" cy="201.6" r="1.95"/>
<circle cx="108.2" cy="200.0" r="1.95"/>
<circle cx="114.5" cy="199.2" r="1.95"/>
<circle cx="118.2" cy="199.2" r="1.95"/>
<circle cx="111.1" cy="197.6" r="1.95"/>
<circle cx="105.3" cy="197.6" r="1.95"/>
<circle cx="121.6" cy="197.6" r="1.95"/>
<circle cx="101.6" cy="197.6" r="1.95"/>
<circle cx="125.0" cy="196.0" r="1.95"/>
<circle cx="98.2" cy="196.0" r="1.95"/>
<circle cx="128.8" cy="196.0" r="1.95"/>
<circle cx="94.4" cy="196.0" r="1.95"/>
<circle cx="132.5" cy="196.0" r="1.95"/>
<circle cx="114.0" cy="195.2" r="1.95"/>
<circle cx="108.2" cy="195.2" r="1.95"/>
<circle cx="117.4" cy="193.6" r="1.95"/>
<circle cx="111.1" cy="192.8" r="1.95"/>
<circle cx="105.3" cy="192.8" r="1.95"/>
<circle cx="121.0" cy="192.8" r="1.95"/>
<circle cx="101.7" cy="192.0" r="1.95"/>
<circle cx="124.7" cy="192.0" r="1.95"/>
<circle cx="114.5" cy="191.2" r="1.95"/>
<circle cx="108.2" cy="190.4" r="1.95"/>
<circle cx="117.9" cy="189.6" r="1.95"/>
<circle cx="111.6" cy="188.8" r="1.95"/>
<circle cx="104.8" cy="188.8" r="1.95"/>
<circle cx="121.5" cy="188.8" r="1.95"/>
<circle cx="101.1" cy="188.0" r="1.95"/>
<circle cx="125.2" cy="188.0" r="1.95"/>
<circle cx="115.0" cy="187.2" r="1.95"/>
<circle cx="97.5" cy="187.2" r="1.95"/>
<circle cx="128.9" cy="187.2" r="1.95"/>
<circle cx="93.7" cy="187.2" r="1.95"/>
<circle cx="108.7" cy="186.4" r="1.95"/>
<circle cx="132.5" cy="186.4" r="1.95"/>
<circle cx="90.1" cy="186.4" r="1.95"/>
<circle cx="118.4" cy="185.6" r="1.95"/>
<circle cx="135.4" cy="185.6" r="1.95"/>
<circle cx="111.6" cy="184.0" r="1.95"/>
<circle cx="108.2" cy="182.4" r="1.95"/>
<circle cx="115.0" cy="182.4" r="1.95"/>
<circle cx="104.5" cy="181.6" r="1.95"/>
<circle cx="118.7" cy="181.6" r="1.95"/>
<circle cx="100.8" cy="181.6" r="1.95"/>
<circle cx="122.4" cy="181.6" r="1.95"/>
<circle cx="97.0" cy="181.6" r="1.95"/>
<circle cx="126.1" cy="180.8" r="1.95"/>
<circle cx="93.4" cy="180.8" r="1.95"/>
<circle cx="129.8" cy="180.8" r="1.95"/>
<circle cx="89.6" cy="180.8" r="1.95"/>
<circle cx="133.6" cy="180.8" r="1.95"/>
<circle cx="111.6" cy="180.0" r="1.95"/>
<circle cx="87.8" cy="180.0" r="1.95"/>
<circle cx="135.4" cy="179.2" r="1.95"/>
<circle cx="135.4" cy="179.2" r="1.95"/>
<circle cx="87.8" cy="179.2" r="1.95"/>
<circle cx="135.4" cy="179.2" r="1.95"/>
<circle cx="108.2" cy="178.4" r="1.95"/>
<circle cx="115.0" cy="178.4" r="1.95"/>
<circle cx="104.5" cy="177.6" r="1.95"/>
<circle cx="118.7" cy="177.6" r="1.95"/>
<circle cx="100.9" cy="176.8" r="1.95"/>
<circle cx="122.3" cy="176.8" r="1.95"/>
<circle cx="111.6" cy="176.0" r="1.95"/>
<circle cx="97.2" cy="176.0" r="1.95"/>
<circle cx="125.7" cy="175.2" r="1.95"/>
<circle cx="129.5" cy="175.2" r="1.95"/>
<circle cx="108.2" cy="174.4" r="1.95"/>
<circle cx="113.6" cy="172.8" r="1.95"/>
<circle cx="117.3" cy="172.8" r="1.95"/>
<circle cx="104.8" cy="172.8" r="1.95"/>
<circle cx="121.1" cy="172.8" r="1.95"/>
<circle cx="110.2" cy="171.2" r="1.95"/>
<circle cx="101.4" cy="171.2" r="1.95"/>
<circle cx="123.9" cy="170.4" r="1.95"/>
<circle cx="106.8" cy="169.6" r="1.95"/>
<circle cx="113.0" cy="168.8" r="1.95"/>
<circle cx="116.7" cy="168.0" r="1.95"/>
<circle cx="103.4" cy="168.0" r="1.95"/>
<circle cx="109.7" cy="167.2" r="1.95"/>
<circle cx="120.4" cy="167.2" r="1.95"/>
<circle cx="99.7" cy="167.2" r="1.95"/>
<circle cx="124.0" cy="166.4" r="1.95"/>
<circle cx="96.0" cy="166.4" r="1.95"/>
<circle cx="127.8" cy="166.4" r="1.95"/>
<circle cx="106.3" cy="165.6" r="1.95"/>
<circle cx="92.4" cy="165.6" r="1.95"/>
<circle cx="131.5" cy="165.6" r="1.95"/>
<circle cx="112.5" cy="164.8" r="1.95"/>
<circle cx="109.1" cy="163.2" r="1.95"/>
<circle cx="115.9" cy="163.2" r="1.95"/>
<circle cx="119.7" cy="163.2" r="1.95"/>
<circle cx="105.7" cy="161.6" r="1.95"/>
<circle cx="102.0" cy="161.6" r="1.95"/>
<circle cx="112.0" cy="160.8" r="1.95"/>
<circle cx="122.6" cy="160.8" r="1.95"/>
<circle cx="98.6" cy="160.0" r="1.95"/>
<circle cx="126.2" cy="160.0" r="1.95"/>
<circle cx="109.1" cy="158.4" r="1.95"/>
<circle cx="114.9" cy="158.4" r="1.95"/>
<circle cx="118.7" cy="158.4" r="1.95"/>
<circle cx="105.5" cy="157.6" r="1.95"/>
<circle cx="101.7" cy="157.6" r="1.95"/>
<circle cx="122.1" cy="156.8" r="1.95"/>
<circle cx="96.6" cy="156.8" r="1.95"/>
<circle cx="128.2" cy="156.8" r="1.95"/>
<circle cx="112.0" cy="156.0" r="1.95"/>
<circle cx="93.0" cy="156.0" r="1.95"/>
<circle cx="131.6" cy="155.2" r="1.95"/>
<circle cx="89.3" cy="155.2" r="1.95"/>
<circle cx="108.6" cy="154.4" r="1.95"/>
<circle cx="115.4" cy="154.4" r="1.95"/>
<circle cx="105.0" cy="153.6" r="1.95"/>
<circle cx="119.1" cy="153.6" r="1.95"/>
<circle cx="101.3" cy="152.8" r="1.95"/>
<circle cx="122.8" cy="152.8" r="1.95"/>
<circle cx="97.5" cy="152.8" r="1.95"/>
<circle cx="111.6" cy="152.0" r="1.95"/>
<circle cx="126.4" cy="152.0" r="1.95"/>
<circle cx="93.9" cy="152.0" r="1.95"/>
<circle cx="133.5" cy="152.0" r="1.95"/>
<circle cx="90.2" cy="151.2" r="1.95"/>
<circle cx="87.8" cy="151.2" r="1.95"/>
<circle cx="108.2" cy="150.4" r="1.95"/>
<circle cx="111.6" cy="145.6" r="1.95"/>
<circle cx="107.8" cy="145.6" r="1.95"/>
<circle cx="115.4" cy="145.6" r="1.95"/>
<circle cx="104.1" cy="145.6" r="1.95"/>
<circle cx="119.1" cy="145.6" r="1.95"/>
<circle cx="100.4" cy="144.8" r="1.95"/>
<circle cx="122.0" cy="143.2" r="1.95"/>
<circle cx="111.6" cy="141.6" r="1.95"/>
<circle cx="111.6" cy="136.0" r="1.95"/>
<circle cx="109.6" cy="132.8" r="1.95"/>
<circle cx="112.5" cy="130.4" r="1.95"/>
<circle cx="111.6" cy="122.4" r="1.95"/>
<circle cx="107.9" cy="121.6" r="1.95"/>
<circle cx="113.6" cy="119.2" r="1.95"/>
<circle cx="109.9" cy="118.4" r="1.95"/>
<circle cx="115.5" cy="116.0" r="1.95"/>
<circle cx="111.8" cy="115.2" r="1.95"/>
<circle cx="111.6" cy="102.4" r="1.95"/>
<circle cx="111.6" cy="98.4" r="1.95"/>
<circle cx="107.9" cy="97.6" r="1.95"/>
<circle cx="111.6" cy="92.8" r="1.95"/>
<circle cx="111.6" cy="64.8" r="1.95"/>
<circle cx="108.7" cy="62.4" r="1.95"/>
<circle cx="188.0" cy="260.6" r="1.95"/>
<circle cx="188.0" cy="254.6" r="1.95"/>
<circle cx="188.0" cy="249.9" r="1.95"/>
<circle cx="184.4" cy="248.8" r="1.95"/>
<circle cx="188.0" cy="245.5" r="1.95"/>
<circle cx="185.4" cy="242.8" r="1.95"/>
<circle cx="188.0" cy="239.8" r="1.95"/>
<circle cx="185.2" cy="237.3" r="1.95"/>
<circle cx="189.1" cy="236.2" r="1.95"/>
<circle cx="187.3" cy="232.9" r="1.95"/>
<circle cx="190.1" cy="230.4" r="1.95"/>
<circle cx="185.5" cy="229.6" r="1.95"/>
<circle cx="188.0" cy="224.0" r="1.95"/>
<circle cx="186.2" cy="220.7" r="1.95"/>
<circle cx="189.3" cy="218.5" r="1.95"/>
<circle cx="186.7" cy="215.8" r="1.95"/>
<circle cx="189.7" cy="213.6" r="1.95"/>
<circle cx="187.9" cy="210.3" r="1.95"/>
<circle cx="190.9" cy="208.1" r="1.95"/>
<circle cx="188.0" cy="203.9" r="1.95"/>
<circle cx="187.4" cy="200.2" r="1.95"/>
<circle cx="191.0" cy="199.3" r="1.95"/>
<circle cx="184.5" cy="197.8" r="1.95"/>
<circle cx="194.2" cy="197.3" r="1.95"/>
<circle cx="180.8" cy="197.3" r="1.95"/>
<circle cx="188.0" cy="196.3" r="1.95"/>
<circle cx="197.6" cy="195.8" r="1.95"/>
<circle cx="177.4" cy="195.7" r="1.95"/>
<circle cx="201.3" cy="195.0" r="1.95"/>
<circle cx="185.9" cy="193.2" r="1.95"/>
<circle cx="189.6" cy="192.8" r="1.95"/>
<circle cx="188.0" cy="189.4" r="1.95"/>
<circle cx="184.4" cy="188.4" r="1.95"/>
<circle cx="190.4" cy="186.5" r="1.95"/>
<circle cx="194.1" cy="186.4" r="1.95"/>
<circle cx="181.5" cy="186.0" r="1.95"/>
<circle cx="188.0" cy="182.3" r="1.95"/>
<circle cx="184.3" cy="181.6" r="1.95"/>
<circle cx="191.6" cy="181.4" r="1.95"/>
<circle cx="195.4" cy="181.4" r="1.95"/>
<circle cx="180.6" cy="181.4" r="1.95"/>
<circle cx="199.1" cy="180.8" r="1.95"/>
<circle cx="176.9" cy="180.7" r="1.95"/>
<circle cx="202.8" cy="180.5" r="1.95"/>
<circle cx="173.4" cy="179.2" r="1.95"/>
<circle cx="206.2" cy="178.8" r="1.95"/>
<circle cx="188.0" cy="178.3" r="1.95"/>
<circle cx="184.4" cy="177.2" r="1.95"/>
<circle cx="191.6" cy="177.1" r="1.95"/>
<circle cx="181.4" cy="175.0" r="1.95"/>
<circle cx="188.0" cy="172.5" r="1.95"/>
<circle cx="186.0" cy="169.3" r="1.95"/>
<circle cx="189.6" cy="168.2" r="1.95"/>
<circle cx="193.4" cy="168.0" r="1.95"/>
<circle cx="182.7" cy="167.6" r="1.95"/>
<circle cx="179.0" cy="167.3" r="1.95"/>
<circle cx="186.9" cy="165.6" r="1.95"/>
<circle cx="196.3" cy="165.6" r="1.95"/>
<circle cx="200.0" cy="165.0" r="1.95"/>
<circle cx="189.5" cy="162.9" r="1.95"/>
<circle cx="186.0" cy="161.5" r="1.95"/>
<circle cx="192.0" cy="160.1" r="1.95"/>
<circle cx="183.4" cy="158.8" r="1.95"/>
<circle cx="188.0" cy="158.0" r="1.95"/>
<circle cx="193.4" cy="156.6" r="1.95"/>
<circle cx="180.4" cy="156.6" r="1.95"/>
<circle cx="197.1" cy="156.2" r="1.95"/>
<circle cx="185.6" cy="155.1" r="1.95"/>
<circle cx="189.3" cy="154.4" r="1.95"/>
<circle cx="178.2" cy="153.6" r="1.95"/>
<circle cx="182.3" cy="153.3" r="1.95"/>
<circle cx="194.7" cy="153.1" r="1.95"/>
<circle cx="198.3" cy="152.1" r="1.95"/>
<circle cx="187.1" cy="151.4" r="1.95"/>
<circle cx="191.3" cy="151.2" r="1.95"/>
<circle cx="188.0" cy="146.0" r="1.95"/>
<circle cx="188.0" cy="122.5" r="1.95"/>
<circle cx="184.3" cy="122.0" r="1.95"/>
<circle cx="188.0" cy="115.7" r="1.95"/>
<circle cx="184.3" cy="115.4" r="1.95"/>
<circle cx="188.0" cy="98.7" r="1.95"/>
<circle cx="188.0" cy="64.6" r="1.95"/>
<circle cx="185.2" cy="62.1" r="1.95"/>
<circle cx="264.4" cy="92.4" r="1.95"/>
<circle cx="264.4" cy="119.0" r="1.95"/>
<circle cx="264.4" cy="130.7" r="1.95"/>
<circle cx="264.4" cy="141.8" r="1.95"/>
<circle cx="264.4" cy="145.4" r="1.95"/>
<circle cx="264.9" cy="151.9" r="1.95"/>
<circle cx="268.2" cy="151.9" r="1.95"/>
<circle cx="261.2" cy="154.7" r="1.95"/>
<circle cx="264.4" cy="156.8" r="1.95"/>
<circle cx="267.5" cy="163.4" r="1.95"/>
<circle cx="260.8" cy="165.3" r="1.95"/>
<circle cx="264.4" cy="166.1" r="1.95"/>
<circle cx="260.8" cy="173.1" r="1.95"/>
<circle cx="267.5" cy="172.8" r="1.95"/>
<circle cx="264.4" cy="175.1" r="1.95"/>
<circle cx="261.2" cy="179.0" r="1.95"/>
<circle cx="267.0" cy="178.4" r="1.95"/>
<circle cx="264.4" cy="181.3" r="1.95"/>
<circle cx="267.5" cy="187.7" r="1.95"/>
<circle cx="263.5" cy="188.7" r="1.95"/>
<circle cx="264.4" cy="192.2" r="1.95"/>
<circle cx="264.4" cy="259.7" r="1.95"/>
<circle cx="264.4" cy="282.5" r="1.95"/>
<circle cx="340.8" cy="102.8" r="1.95"/>
<circle cx="337.4" cy="144.6" r="1.95"/>
<circle cx="340.8" cy="145.6" r="1.95"/>
<circle cx="340.0" cy="150.5" r="1.95"/>
<circle cx="342.3" cy="152.8" r="1.95"/>
<circle cx="337.6" cy="154.8" r="1.95"/>
<circle cx="340.8" cy="156.0" r="1.95"/>
<circle cx="343.2" cy="158.7" r="1.95"/>
<circle cx="337.4" cy="161.0" r="1.95"/>
<circle cx="340.8" cy="161.6" r="1.95"/>
<circle cx="340.8" cy="166.8" r="1.95"/>
<circle cx="340.8" cy="170.7" r="1.95"/>
<circle cx="337.4" cy="174.4" r="1.95"/>
<circle cx="340.8" cy="175.8" r="1.95"/>
<circle cx="347.6" cy="179.7" r="1.95"/>
<circle cx="344.1" cy="180.3" r="1.95"/>
<circle cx="337.6" cy="180.6" r="1.95"/>
<circle cx="340.8" cy="182.3" r="1.95"/>
<circle cx="337.6" cy="185.6" r="1.95"/>
<circle cx="340.8" cy="187.1" r="1.95"/>
<circle cx="344.1" cy="187.6" r="1.95"/>
<circle cx="337.6" cy="190.0" r="1.95"/>
<circle cx="340.8" cy="191.8" r="1.95"/>
<circle cx="337.4" cy="196.1" r="1.95"/>
<circle cx="340.8" cy="197.3" r="1.95"/>
<circle cx="337.4" cy="204.7" r="1.95"/>
<circle cx="340.8" cy="205.1" r="1.95"/>
<circle cx="346.4" cy="208.6" r="1.95"/>
<circle cx="335.6" cy="209.8" r="1.95"/>
<circle cx="343.2" cy="211.0" r="1.95"/>
<circle cx="339.4" cy="211.3" r="1.95"/>
<circle cx="340.8" cy="214.5" r="1.95"/>
<circle cx="337.6" cy="228.6" r="1.95"/>
<circle cx="340.8" cy="229.7" r="1.95"/>
<circle cx="340.8" cy="240.3" r="1.95"/>
<circle cx="337.5" cy="246.0" r="1.95"/>
<circle cx="340.8" cy="247.6" r="1.95"/>
<circle cx="417.2" cy="98.0" r="1.95"/>
<circle cx="413.3" cy="145.8" r="1.95"/>
<circle cx="417.2" cy="145.8" r="1.95"/>
<circle cx="417.2" cy="152.5" r="1.95"/>
<circle cx="413.3" cy="157.7" r="1.95"/>
<circle cx="417.2" cy="157.7" r="1.95"/>
<circle cx="417.2" cy="163.0" r="1.95"/>
<circle cx="417.2" cy="177.6" r="1.95"/>
<circle cx="417.2" cy="187.3" r="1.95"/>
<circle cx="417.2" cy="196.0" r="1.95"/>
<circle cx="417.2" cy="214.3" r="1.95"/>
<circle cx="417.2" cy="220.5" r="1.95"/>
<circle cx="417.2" cy="244.7" r="1.95"/>
<circle cx="493.6" cy="135.9" r="1.95"/>
<circle cx="490.5" cy="171.2" r="1.95"/>
<circle cx="493.6" cy="173.2" r="1.95"/>
<circle cx="493.6" cy="186.4" r="1.95"/>
<circle cx="493.6" cy="199.0" r="1.95"/>
<circle cx="490.1" cy="231.5" r="1.95"/>
<circle cx="493.6" cy="232.8" r="1.95"/>
<circle cx="493.6" cy="307.9" r="1.95"/>
<circle cx="493.6" cy="312.7" r="1.95"/>
<circle cx="570.0" cy="118.5" r="1.95"/>
<circle cx="570.0" cy="132.8" r="1.95"/>
<circle cx="570.0" cy="161.1" r="1.95"/>
<circle cx="571.7" cy="166.4" r="1.95"/>
<circle cx="567.9" cy="167.5" r="1.95"/>
<circle cx="570.0" cy="170.8" r="1.95"/>
<circle cx="566.7" cy="176.0" r="1.95"/>
<circle cx="570.0" cy="177.7" r="1.95"/>
<circle cx="570.0" cy="184.2" r="1.95"/>
<circle cx="566.7" cy="193.5" r="1.95"/>
<circle cx="570.0" cy="194.8" r="1.95"/>
<circle cx="569.4" cy="201.3" r="1.95"/>
<circle cx="570.0" cy="205.3" r="1.95"/>
<circle cx="570.0" cy="211.1" r="1.95"/>
<circle cx="565.1" cy="217.0" r="1.95"/>
<circle cx="570.0" cy="217.5" r="1.95"/>
<circle cx="577.0" cy="219.8" r="1.95"/>
<circle cx="573.5" cy="219.8" r="1.95"/>
<circle cx="566.7" cy="220.1" r="1.95"/>
<circle cx="570.0" cy="220.6" r="1.95"/>
<circle cx="570.0" cy="223.2" r="1.95"/>
<circle cx="571.4" cy="229.9" r="1.95"/>
<circle cx="566.7" cy="232.4" r="1.95"/>
<circle cx="570.0" cy="233.0" r="1.95"/>
<circle cx="573.7" cy="233.0" r="1.95"/>
<circle cx="576.4" cy="236.2" r="1.95"/>
<circle cx="567.6" cy="236.9" r="1.95"/>
<circle cx="571.7" cy="236.5" r="1.95"/>
<circle cx="570.0" cy="239.7" r="1.95"/>
<circle cx="570.0" cy="246.8" r="1.95"/>
<circle cx="570.0" cy="275.6" r="1.95"/>
<circle cx="646.4" cy="143.2" r="1.95"/>
<circle cx="646.4" cy="152.4" r="1.95"/>
<circle cx="646.4" cy="160.0" r="1.95"/>
<circle cx="646.4" cy="169.0" r="1.95"/>
<circle cx="643.1" cy="179.5" r="1.95"/>
<circle cx="646.4" cy="181.0" r="1.95"/>
<circle cx="642.0" cy="187.4" r="1.95"/>
<circle cx="646.4" cy="189.0" r="1.95"/>
<circle cx="650.2" cy="188.3" r="1.95"/>
<circle cx="643.1" cy="191.2" r="1.95"/>
<circle cx="646.4" cy="192.9" r="1.95"/>
<circle cx="646.4" cy="210.7" r="1.95"/>
<circle cx="646.4" cy="259.7" r="1.95"/>
</g>
<g>
<path d="M73.6,31.6 V409.1 H685" fill="none" stroke="#444" stroke-width="1.05"/>
<line x1="71.0" y1="60.4" x2="73.6" y2="60.4" stroke="#3d3d3d" stroke-width="1"/>
<text x="68" y="65.9" text-anchor="end" class="t">50</text>
<line x1="71.0" y1="112.9" x2="73.6" y2="112.9" stroke="#3d3d3d" stroke-width="1"/>
<text x="68" y="118.4" text-anchor="end" class="t">25</text>
<line x1="71.0" y1="165.4" x2="73.6" y2="165.4" stroke="#3d3d3d" stroke-width="1"/>
<text x="68" y="170.9" text-anchor="end" class="t">0</text>
<line x1="71.0" y1="217.9" x2="73.6" y2="217.9" stroke="#3d3d3d" stroke-width="1"/>
<text x="68" y="223.4" text-anchor="end" class="t">−25</text>
<line x1="71.0" y1="270.4" x2="73.6" y2="270.4" stroke="#3d3d3d" stroke-width="1"/>
<text x="68" y="275.9" text-anchor="end" class="t">−50</text>
<line x1="71.0" y1="323.0" x2="73.6" y2="323.0" stroke="#3d3d3d" stroke-width="1"/>
<text x="68" y="328.5" text-anchor="end" class="t">−75</text>
<line x1="71.0" y1="375.5" x2="73.6" y2="375.5" stroke="#3d3d3d" stroke-width="1"/>
<text x="68" y="381.0" text-anchor="end" class="t">−100</text>
<line x1="111.6" y1="409.1" x2="111.6" y2="411.7" stroke="#3d3d3d" stroke-width="1"/>
<text x="111.6" y="425.9" text-anchor="middle" class="t">Total</text>
<line x1="188.0" y1="409.1" x2="188.0" y2="411.7" stroke="#3d3d3d" stroke-width="1"/>
<text x="188.0" y="425.9" text-anchor="middle" class="t">Oxide</text>
<line x1="264.4" y1="409.1" x2="264.4" y2="411.7" stroke="#3d3d3d" stroke-width="1"/>
<text x="264.4" y="425.9" text-anchor="middle" class="t">Sulfide</text>
<line x1="340.8" y1="409.1" x2="340.8" y2="411.7" stroke="#3d3d3d" stroke-width="1"/>
<text x="340.8" y="425.9" text-anchor="middle" class="t">Silicate</text>
<line x1="417.2" y1="409.1" x2="417.2" y2="411.7" stroke="#3d3d3d" stroke-width="1"/>
<text x="417.2" y="425.9" text-anchor="middle" class="t">Halogen</text>
<line x1="493.6" y1="409.1" x2="493.6" y2="411.7" stroke="#3d3d3d" stroke-width="1"/>
<text x="493.6" y="425.9" text-anchor="middle" class="t">Sulfate</text>
<line x1="570.0" y1="409.1" x2="570.0" y2="411.7" stroke="#3d3d3d" stroke-width="1"/>
<text x="570.0" y="425.9" text-anchor="middle" class="t">Carbonate</text>
<line x1="646.4" y1="409.1" x2="646.4" y2="411.7" stroke="#3d3d3d" stroke-width="1"/>
<text x="646.4" y="425.9" text-anchor="middle" class="t">Phosphate</text>
</g>
<text x="375.2" y="448.6" text-anchor="middle" class="l">Mineral Type</text>
</svg>
</body></html>
